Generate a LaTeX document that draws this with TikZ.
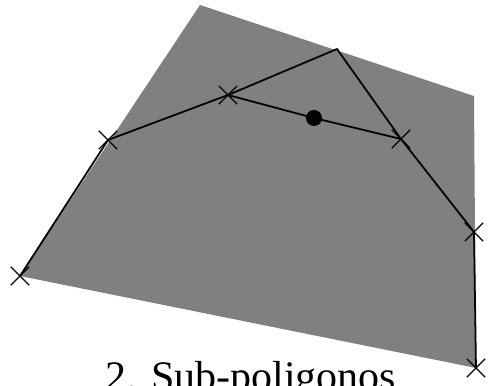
\documentclass[tikz,border=0pt]{standalone}
\usepackage{fontspec}
\setmainfont{Liberation Serif}
\usepackage{tikz}
\usetikzlibrary{shapes.misc}
\usepackage{tkz-euclide}
\definecolor{regiongray}{RGB}{128,128,128}
\tikzset{
  xmark/.style={draw=black, cross out, line width=0.8pt, minimum size=0.34cm, inner sep=0pt},
  edge/.style={line width=1pt, black}
}

\begin{document}
\begin{tikzpicture}[x=0.02cm, y=0.02cm]
    % --- 1. marco de la figura ---
    \useasboundingbox (0,0) rectangle (495,386);
    \clip (0,0) rectangle (495,386);

    % --- 2. vertices de la region gris ---
    \tkzDefPoint(20,110){A}
    \tkzDefPoint(200,381){P}
    \tkzDefPoint(474,290){Q}
    \tkzDefPoint(476,18){G}

    % --- 3. vertices de la poligonal ---
    \tkzDefPoint(108,246){B}
    \tkzDefPoint(228,291){C}
    \tkzDefPoint(337,337){D}
    \tkzDefPoint(401,247){E}
    \tkzDefPoint(474,154){F}
    \tkzDefPoint(314,268){M}

    % --- 4. region gris ---
    \tkzFillPolygon[fill=regiongray, draw=none](A,P,Q,G)

    % --- 5. poligonal y sub-poligono ---
    \draw[edge] (A) -- (B) -- (C) -- (D) -- (E) -- (F) -- (G);
    \draw[edge] (C) -- (M) -- (E);
    \fill[black] (M) circle (8);

    % --- 6. marcas ---
    \foreach \p in {A,B,C,E,F,G}
      \node[xmark] at (\p) {};

    \node[anchor=base, font=\fontsize{23.9}{28}\selectfont] (titulo) at (251,-5) {2. Sub-poligonos};
\end{tikzpicture}
\end{document}
